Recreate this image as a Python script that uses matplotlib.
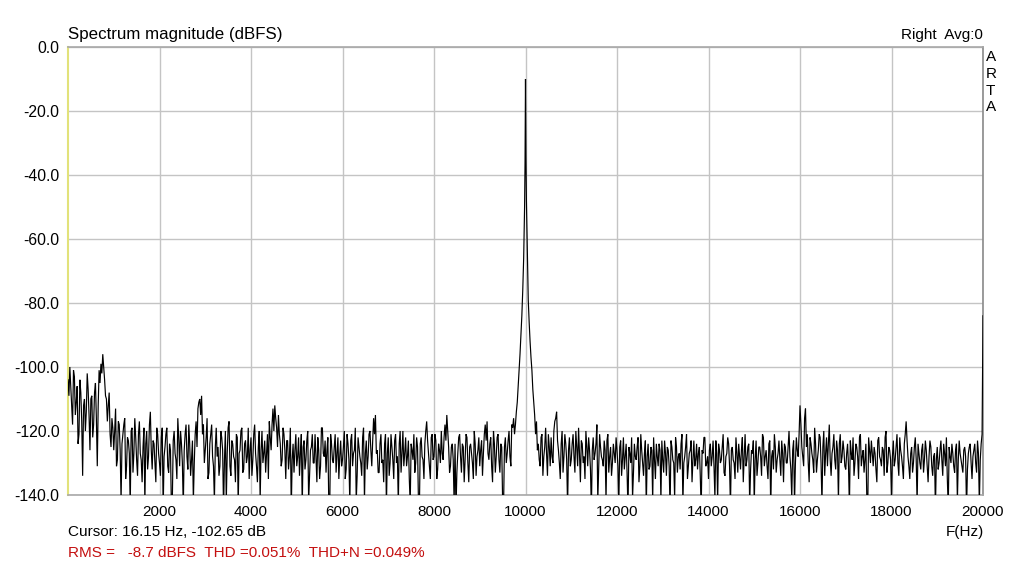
import numpy as np
import matplotlib
matplotlib.use("Agg")
import matplotlib.pyplot as plt

# ---------------- data ----------------
bin_step_hz = 40
half_bin_hz = 20

# noise below the tone: 0 .. 9720 Hz, one value per 40 Hz bin
level_below_tone = [
    -104, -100, -112, -101, -115, -106, -121, -108, -134, -110,
    -114, -107, -126, -109, -118, -105, -131, -101, -99, -96,
    -104, -110, -112, -121, -116,
    -126, -113, -129, -118, -142, -121, -116, -131, -123, -144,
    -119, -127, -122, -134, -117, -129, -125, -143, -120, -128,
    -114, -132, -124, -136, -121,
    -130, -122, -145, -125, -119, -133, -126, -142, -120, -129,
    -116, -131, -124, -144, -121, -128, -118, -134, -123, -130,
    -117, -113, -110, -109, -118,
    -126, -116, -133, -121, -128, -142, -119, -125, -131, -122,
    -145, -120, -127, -117, -134, -124, -129, -121, -143, -126,
    -119, -132, -123, -128, -135,
    -122, -129, -118, -131, -125, -142, -120, -127, -133, -121,
    -117, -126, -113, -112, -119, -115, -124, -129, -121, -135,
    -123, -128, -145, -124, -126,
    -131, -122, -127, -144, -123, -129, -120, -134, -125, -130,
    -121, -136, -126, -131, -119, -128, -133, -122, -145, -124,
    -130, -121, -127, -135, -123,
    -129, -120, -132, -124, -143, -121, -127, -119, -134, -125,
    -130, -122, -142, -123, -128, -120, -131, -116, -115, -126,
    -133, -121, -129, -124, -144,
    -122, -130, -125, -135, -121, -128, -124, -133, -120, -127,
    -131, -123, -143, -126, -121, -130, -125, -145, -122, -129,
    -124, -117, -127, -135, -121,
    -128, -123, -132, -126, -120, -129, -118, -115, -125, -131,
    -124, -143, -145, -127, -121, -133, -125, -129, -122, -136,
    -124, -130, -120, -134, -126,
    -131, -123, -127, -118, -117, -129, -122, -136, -124, -128,
    -121, -133, -125, -144, -122, -127, -120, -131, -119,
]
# the in-between bins: 20 .. 9740 Hz
level_below_tone_mid = [
    -109, -106, -118, -103, -111, -124, -104, -117, -112, -120,
    -102, -115, -110, -122, -108, -116, -112, -105, -102, -100,
    -109, -117, -108, -125, -119,
    -120, -131, -117, -126, -124, -118, -135, -122, -127, -120,
    -133, -116, -129, -121, -127, -136, -119, -124, -132, -118,
    -126, -123, -130, -119, -127,
    -134, -119, -128, -121, -131, -124, -144, -123, -127, -135,
    -122, -120, -130, -126, -118, -132, -124, -129, -142, -121,
    -125, -111, -115, -121, -130,
    -122, -135, -124, -118, -131, -125, -128, -134, -120, -126,
    -129, -142, -119, -131, -123, -128, -136, -122, -127, -120,
    -133, -124, -130, -119, -126,
    -134, -121, -127, -136, -120, -126, -130, -123, -127, -135,
    -122, -118, -120, -116, -125, -121, -131, -119, -126, -123,
    -132, -119, -129, -133, -121,
    -128, -134, -121, -125, -132, -123, -142, -126, -121, -130,
    -128, -122, -135, -119, -127, -123, -126, -143, -121, -129,
    -125, -133, -122, -128, -131,
    -125, -135, -121, -129, -123, -131, -126, -142, -122, -128,
    -134, -119, -127, -132, -121, -126, -123, -121, -127, -133,
    -124, -130, -136, -121, -127,
    -134, -121, -129, -123, -130, -143, -120, -127, -131, -122,
    -128, -135, -124, -129, -133, -122, -142, -124, -128, -135,
    -120, -123, -131, -122, -129,
    -121, -135, -124, -130, -127, -122, -123, -120, -133, -125,
    -129, -124, -133, -122, -128, -124, -136, -121, -130, -125,
    -127, -135, -124, -128, -122,
    -126, -134, -121, -123, -127, -124, -131, -120, -133, -122,
    -129, -124, -142, -125, -130, -123, -128, -118, -116,
]

# the 10 kHz test tone and its skirts
tone_freq_hz = [9760, 9780, 9800, 9820, 9840, 9860, 9880, 9900, 9920, 9940,
                9960, 9980, 9990, 10000, 10010, 10020, 10040, 10060, 10080,
                10100, 10120, 10140, 10160, 10180, 10200, 10220, 10240, 10260]
tone_level_db = [-121, -118, -114, -111, -106, -101, -96, -90, -84, -76,
                 -66, -50, -36, -10, -34, -48, -64, -79, -86,
                 -92, -97, -101, -107, -111, -115, -121, -117, -126]

# noise above the tone: 10280 .. 20000 Hz, one value per 40 Hz bin
above_tone_start_hz = 10280
level_above_tone = [
    -124, -131, -121, -128, -119, -134, -125, -122, -130, -117,
    -114, -126, -135, -120, -128, -124, -144, -122,
    -129, -121, -133, -125, -119, -136, -124, -128, -120, -131,
    -126, -145, -122, -127, -118, -132, -125, -129, -123, -142,
    -121, -128, -134, -124, -130,
    -126, -143, -123, -129, -132, -124, -145, -127, -122, -133,
    -128, -125, -136, -121, -130, -127, -144, -124, -131, -126,
    -122, -135, -128, -124, -142,
    -129, -123, -134, -126, -145, -125, -130, -122, -133, -127,
    -124, -143, -128, -121, -131, -126, -136, -123, -129, -132,
    -125, -145, -127, -122, -130,
    -135, -124, -128, -131, -123, -142, -126, -129, -121, -134,
    -127, -124, -144, -125, -130, -122, -133, -128, -126, -136,
    -121, -129, -124, -132, -127,
    -143, -123, -130, -125, -134, -122, -128, -131, -124, -145,
    -126, -121, -133, -127, -129, -123, -136, -125, -130, -120,
    -132, -126, -143, -122, -128,
    -112, -125, -131, -113, -121, -136, -124, -129, -119, -133,
    -126, -122, -143, -120, -127, -131, -118, -134, -125, -129,
    -123, -142, -121, -128, -126,
    -132, -124, -144, -127, -122, -130, -125, -135, -121, -128,
    -133, -124, -145, -126, -123, -131, -127, -136, -122, -129,
    -125, -134, -120, -130, -126,
    -142, -123, -129, -121, -134, -126, -131, -124, -117, -128,
    -135, -125, -130, -122, -143, -127, -132, -124, -129, -126,
    -136, -123, -131, -128, -145,
    -125, -130, -123, -134, -127, -122, -144, -128, -124, -131,
    -126, -142, -123, -129, -133, -125, -145, -127, -124, -135,
    -126, -130, -123, -143, -124,
    -84,
]
# the in-between bins: 10300 .. 19980 Hz
level_above_tone_mid = [
    -129, -122, -134, -125, -127, -121, -131, -128, -120, -116,
    -123, -130, -124, -133, -121, -129, -126, -131,
    -124, -128, -120, -131, -127, -123, -130, -135, -125, -122,
    -132, -126, -129, -124, -142, -121, -128, -131, -126, -123,
    -133, -125, -130, -127, -122,
    -131, -125, -134, -122, -128, -133, -125, -130, -141, -124,
    -129, -122, -131, -126, -134, -123, -128, -132, -125, -142,
    -129, -124, -131, -126, -123,
    -133, -127, -125, -131, -123, -129, -141, -125, -128, -132,
    -121, -130, -125, -135, -127, -123, -129, -131, -124, -127,
    -134, -126, -122, -131, -128,
    -126, -131, -123, -141, -127, -124, -130, -125, -133, -128,
    -122, -131, -126, -129, -135, -127, -124, -132, -122, -128,
    -131, -125, -143, -126, -123,
    -129, -134, -125, -128, -121, -131, -126, -135, -123, -128,
    -132, -125, -129, -123, -134, -127, -124, -130, -125, -128,
    -141, -123, -130, -126, -121,
    -118, -128, -116, -125, -130, -122, -127, -133, -124, -129,
    -121, -130, -125, -134, -122, -124, -129, -127, -121, -132,
    -126, -124, -130, -123, -131,
    -127, -131, -123, -129, -134, -124, -128, -122, -131, -126,
    -129, -141, -122, -130, -127, -125, -132, -123, -128, -131,
    -126, -122, -133, -125, -129,
    -128, -131, -125, -130, -122, -128, -135, -121, -123, -131,
    -127, -133, -125, -129, -124, -130, -126, -133, -123, -131,
    -128, -125, -134, -127, -129,
    -132, -126, -129, -124, -131, -135, -125, -130, -127, -133,
    -124, -129, -127, -131, -126, -128, -132, -125, -130, -128,
    -124, -133, -127, -129, -121,
]

x_ticks = [2000, 4000, 6000, 8000, 10000, 12000, 14000, 16000, 18000, 20000]
y_ticks = [0, -20, -40, -60, -80, -100, -120, -140]

title_text = "Spectrum magnitude (dBFS)"
channel_text = "Right  Avg:0"
cursor_text = "Cursor: 16.15 Hz, -102.65 dB"
stats_text = "RMS =   -8.7 dBFS  THD =0.051%  THD+N =0.049%"
x_label = "F(Hz)"
brand_letters = ["A", "R", "T", "A"]

# ---------------- assemble trace ----------------
f_below = bin_step_hz * np.arange(len(level_below_tone))
f_below_mid = half_bin_hz + bin_step_hz * np.arange(len(level_below_tone_mid))
f_above = above_tone_start_hz + bin_step_hz * np.arange(len(level_above_tone))
f_above_mid = above_tone_start_hz + half_bin_hz + bin_step_hz * np.arange(len(level_above_tone_mid))
freq = np.concatenate([f_below, f_below_mid, np.array(tone_freq_hz), f_above, f_above_mid])
level = np.concatenate([np.array(level_below_tone, float),
                        np.array(level_below_tone_mid, float),
                        np.array(tone_level_db, float),
                        np.array(level_above_tone, float),
                        np.array(level_above_tone_mid, float)])
order = np.argsort(freq, kind="stable")
freq = freq[order]
level = level[order]

# ---------------- drawing ----------------
plt.rcParams['font.family'] = ['Liberation Sans', 'DejaVu Sans']
fig = plt.figure(figsize=(10.24, 5.64), dpi=100)
fig.patch.set_facecolor("white")
ax = fig.add_axes([68 / 1024, 1 - 495 / 564, (983 - 68) / 1024, (495 - 47) / 564])

ax.plot(freq, level, color="black", lw=0.85, solid_joinstyle="miter", zorder=3)

ax.set_xlim(0, 20000)
ax.set_ylim(-140, 0)
ax.set_xticks(x_ticks)
ax.set_xticklabels([str(v) for v in x_ticks], fontsize=11)
ax.set_yticks(y_ticks)
ax.set_yticklabels([f"{v:.1f}" for v in y_ticks], fontsize=11.3)
ax.tick_params(length=0, pad=6)
ax.tick_params(axis="x", pad=7)
ax.grid(True, color="#c4c4c4", lw=1.0, zorder=0)

for side in ("top", "bottom"):
    ax.spines[side].set_color("#a8a8a8")
    ax.spines[side].set_linewidth(1.2)
ax.spines["right"].set_color("#8a8a8a")
ax.spines["right"].set_linewidth(1.2)
ax.spines["left"].set_color("#e2e27a")
ax.spines["left"].set_linewidth(1.5)

fig.text(68 / 1024, 1 - 34 / 564, title_text, fontsize=12.2, va="center", ha="left")
fig.text(983 / 1024, 1 - 35 / 564, channel_text, fontsize=11, va="center", ha="right")
for i, ch in enumerate(brand_letters):
    fig.text(986 / 1024, 1 - (57 + 16.8 * i) / 564, ch, fontsize=11, va="center", ha="left")
fig.text(965 / 1024, 1 - 532 / 564, x_label, fontsize=11, va="center", ha="center")
fig.text(68 / 1024, 1 - 532 / 564, cursor_text, fontsize=11, va="center", ha="left")
fig.text(68 / 1024, 1 - 553 / 564, stats_text, fontsize=11, va="center", ha="left",
         color="#c41010")

fig.savefig("out.png", dpi=100, facecolor="white")
